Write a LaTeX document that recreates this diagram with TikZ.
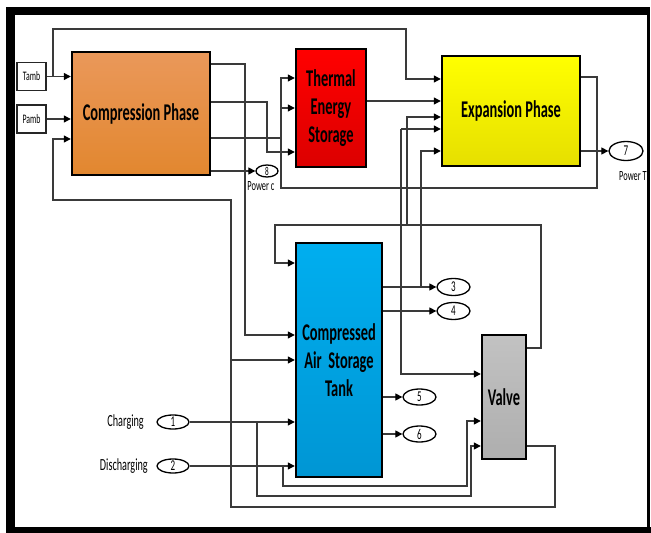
\documentclass[tikz,border=0pt]{standalone}
\usepackage{fontspec}
\setmainfont{Carlito}[FakeStretch=0.6]
\usetikzlibrary{shapes.geometric,arrows.meta,calc}
\definecolor{orTop}{HTML}{EA985A}
\definecolor{orBot}{HTML}{E2872F}
\definecolor{rdTop}{HTML}{FF0000}
\definecolor{rdBot}{HTML}{DC0000}
\definecolor{ylTop}{HTML}{FFFF00}
\definecolor{ylBot}{HTML}{E6DF00}
\definecolor{blTop}{HTML}{00AEEF}
\definecolor{blBot}{HTML}{0096D4}
\definecolor{gyTop}{HTML}{C2C2C2}
\definecolor{gyBot}{HTML}{AEAEAE}
\definecolor{wireCol}{HTML}{3A3A3A}
\begin{document}
\begin{tikzpicture}[x=1pt,y=-1pt,
  wire/.style={draw=wireCol, line width=1.2pt},
  arr/.style={wire,-{Triangle[length=7pt,width=7pt,color=black]}},
  blockbox/.style={rectangle, draw=black, line width=2.4pt, inner sep=0pt, align=center,
     font=\bfseries\fontsize{24}{28}\selectfont},
  portoval/.style={ellipse, draw=black, line width=1.3pt, inner sep=0pt, fill=white,
     font=\fontsize{15}{15}\selectfont},
  srcbox/.style={rectangle, draw=black!85, line width=1.5pt, fill=white, inner sep=0pt,
     minimum width=29pt, minimum height=28pt, font=\fontsize{13}{13}\selectfont},
  lbl/.style={inner sep=0pt, font=\fontsize{14}{14}\selectfont},
  biglbl/.style={inner sep=0pt, font=\fontsize{17}{17}\selectfont}
]
\useasboundingbox (0,0) rectangle (651,533);
% frame
\fill[black] (6,7) rectangle (650,15);
\fill[black] (6,7) rectangle (15,533);
\fill[black] (6,527) rectangle (651,533);
\fill[black] (647,7) rectangle (650,533);

% blocks
\node[srcbox] (tamb) at (31.5,76.5) {Tamb};
\node[srcbox] (pamb) at (31.5,119) {Pamb};
\node[blockbox, minimum width=138pt, minimum height=123pt, top color=orTop, bottom color=orBot] (comp) at (141,113.5) {Compression Phase};
\node[blockbox, minimum width=70pt, minimum height=118pt, top color=rdTop, bottom color=rdBot] (tes) at (331,108) {Thermal\\Energy\\Storage};
\node[blockbox, minimum width=138pt, minimum height=110pt, top color=ylTop, bottom color=ylBot] (exp) at (511,111) {Expansion Phase};
\node[blockbox, minimum width=86pt, minimum height=234pt, top color=blTop, bottom color=blBot] (tank) at (339,360) {Compressed\\Air~~Storage\\Tank};
\node[blockbox, minimum width=44pt, minimum height=124pt, top color=gyTop, bottom color=gyBot] (valve) at (504,397) {Valve};

% ports
\node[portoval, minimum width=22pt, minimum height=12pt, font=\fontsize{12}{12}\selectfont] (o8) at (267,171) {8};
\node[portoval, minimum width=34pt, minimum height=19pt] (o7) at (626,151) {7};
\node[portoval, minimum width=33pt, minimum height=17pt] (o3) at (453.5,287) {3};
\node[portoval, minimum width=33pt, minimum height=17pt] (o4) at (453.5,311) {4};
\node[portoval, minimum width=33pt, minimum height=16pt] (o5) at (419.5,397) {5};
\node[portoval, minimum width=33pt, minimum height=16pt] (o6) at (419.5,434) {6};
\node[portoval, minimum width=32pt, minimum height=14pt] (o1) at (173,422) {1};
\node[portoval, minimum width=32pt, minimum height=14pt] (o2) at (173,466) {2};

\node[lbl] (pc) at (261,186) {Power c};
\node[lbl] (pt) at (633,176) {Power T};
\node[biglbl, anchor=east] (chg) at (144,422) {Charging};
\node[biglbl, anchor=east] (dis) at (148,466) {Discharging};

% wires
\draw[arr] (tamb.east) -- (comp.west |- tamb.east);
\draw[arr] (53,76.5) |- (406,29) -- (406,79) -- (exp.west |- 0,79);
\draw[arr] (pamb.east) -- (comp.west |- pamb.east);
\draw[arr] (valve.east |- 0,446) -| (555,507) -| (231,200) -| (53,139) -- (comp.west |- 0,139);
\draw[arr] (231,360) -- (tank.west |- 0,360);
\draw[arr] (comp.east |- 0,64) -| (245,335) -- (tank.west |- 0,335);
\draw[arr] (comp.east |- 0,102) -| (267,152) -- (tes.west |- 0,152);
\draw[wire] (comp.east |- 0,138) -- (281,138);
\draw[arr] (exp.east |- 0,77) -| (597,188) -| (281,78) -- (tes.west |- 0,78);
\draw[arr] (281,108) -- (tes.west |- 0,108);
\draw[arr] (comp.east |- o8) -- (o8.west);
\draw[arr] (tes.east |- 0,101) -- (exp.west |- 0,101);
\draw[arr] (tank.east |- o3) -- (o3.west);
\draw[arr] (421,287) |- (exp.west |- 0,151);
\draw[arr] (tank.east |- o4) -- (o4.west);
\draw[arr] (valve.east |- 0,348) -| (541,225) -| (275,263) -- (tank.west |- 0,263);
\draw[arr] (407,225) |- (exp.west |- 0,117);
\coordinate (sp) at (401,129);
\draw[arr] (sp) -- (exp.west |- sp);
\draw[arr] (sp) |- (valve.west |- 0,374);
\draw[arr] (tank.east |- o5) -- (o5.west);
\draw[arr] (tank.east |- o6) -- (o6.west);
\draw[arr] (o1.east) -- (tank.west |- o1);
\draw[arr] (257,422) |- (471,496) |- (valve.west |- 0,446);
\draw[arr] (o2.east) -- (tank.west |- o2);
\draw[arr] (283,466) |- (467,486) |- (valve.west |- 0,421);
\draw[arr] (exp.east |- o7) -- (o7.west);
\end{tikzpicture}
\end{document}
